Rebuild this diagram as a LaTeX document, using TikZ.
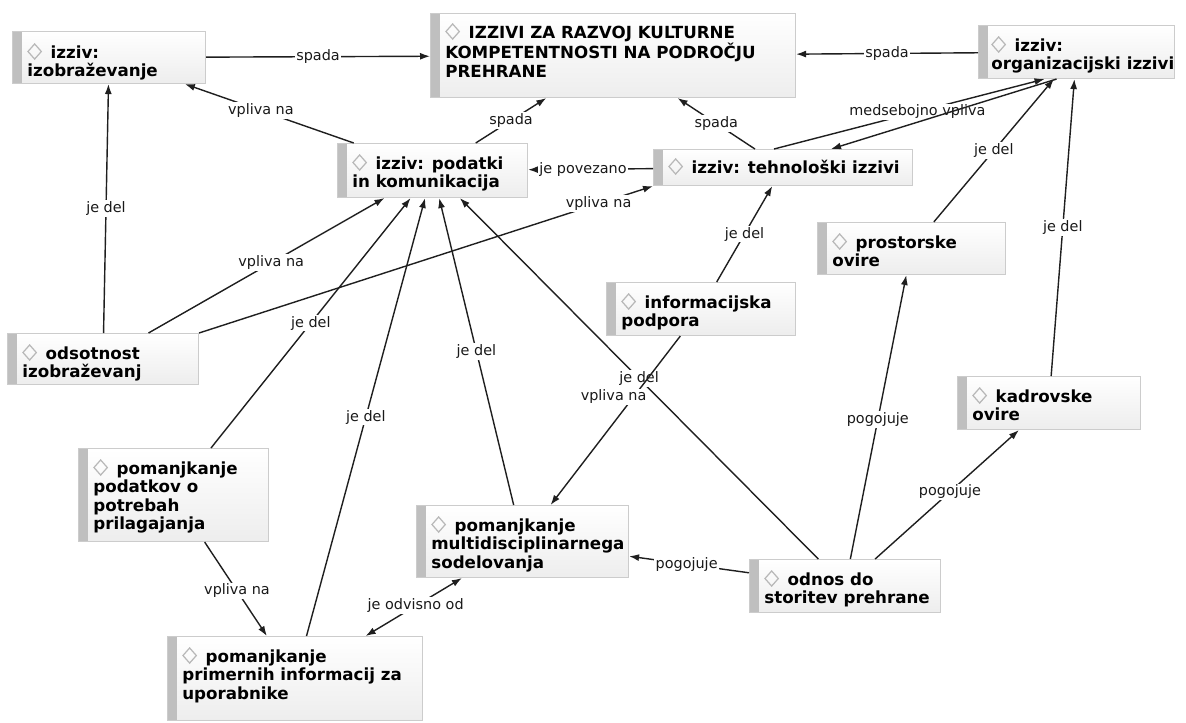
\documentclass[tikz,border=0pt]{standalone}
\usepackage{fontspec}
\setmainfont{DejaVu Sans}
\usetikzlibrary{arrows.meta}

\newcommand{\pik}{0.02cm}
\newcommand{\romb}{\tikz[baseline=0pt, x=1pt, y=1pt]\draw[black!28, line width=0.7pt] (3.8, -0.6) -- (7.6, 3.7) -- (3.8, 8) -- (0, 3.7) -- cycle;\hspace{5pt}}

\tikzset{
    pojem/.style={draw=black!20, line width=0.6pt, top color=white, bottom color=black!7,
        inner sep=0pt, anchor=north west,
        path picture={\fill[black!25] (path picture bounding box.north west)
            rectangle ([xshift=0.18cm]path picture bounding box.south west);}},
    besedilo/.style={anchor=north west, inner sep=0pt, align=left,
        font=\fontsize{9.5}{10.6}\selectfont\bfseries},
    povezava/.style={line width=0.8pt, draw=black!88, ->},
    oznaka/.style={fill=white, inner sep=0.8pt, text=black!90,
        font=\fontsize{8.2}{9}\selectfont}
}

\begin{document}
\begin{tikzpicture}[x=0.02cm, y=-0.02cm, >={Latex[length=2mm,width=1.4mm]}]
            %\draw[lightgray] (0, 0) grid[step=50] (1186, 723);
            \useasboundingbox (0, 0) rectangle (1186, 723);

            % pojmi
            \node[pojem, minimum width=193*\pik, minimum height=52*\pik] (izobrazevanje) at (12, 31) {};
            \node[besedilo] (izobrazevanje-t) at ([shift={(15, 12)}]izobrazevanje.north west) {\romb izziv:\\izobraževanje};
            \node[pojem, minimum width=365*\pik, minimum height=84*\pik] (izzivi) at (430, 13) {};
            \node[besedilo] (izzivi-t) at ([shift={(15, 10)}]izzivi.north west) {\romb IZZIVI ZA RAZVOJ KULTURNE\\KOMPETENTNOSTI NA PODROČJU\\PREHRANE};
            \node[pojem, minimum width=196*\pik, minimum height=53*\pik] (organizacijski) at (978, 25) {};
            \node[besedilo] (organizacijski-t) at ([shift={(13, 11)}]organizacijski.north west) {\romb izziv:\\organizacijski izzivi};
            \node[pojem, minimum width=190*\pik, minimum height=54*\pik] (podatki) at (337, 143) {};
            \node[besedilo] (podatki-t) at ([shift={(15, 11)}]podatki.north west) {\romb izziv: podatki\\in komunikacija};
            \node[pojem, minimum width=259*\pik, minimum height=36*\pik] (tehnoloski) at (653, 149) {};
            \node[besedilo] (tehnoloski-t) at ([shift={(15, 9)}]tehnoloski.north west) {\romb izziv: tehnološki izzivi};
            \node[pojem, minimum width=188*\pik, minimum height=52*\pik] (prostorske) at (817, 222) {};
            \node[besedilo] (prostorske-t) at ([shift={(15, 11)}]prostorske.north west) {\romb prostorske\\ovire};
            \node[pojem, minimum width=189*\pik, minimum height=53*\pik] (informacijska) at (606, 282) {};
            \node[besedilo] (informacijska-t) at ([shift={(15, 11)}]informacijska.north west) {\romb informacijska\\podpora};
            \node[pojem, minimum width=183*\pik, minimum height=53*\pik] (kadrovske) at (957, 376) {};
            \node[besedilo] (kadrovske-t) at ([shift={(15, 11)}]kadrovske.north west) {\romb kadrovske\\ovire};
            \node[pojem, minimum width=191*\pik, minimum height=51*\pik] (odsotnost) at (7, 333) {};
            \node[besedilo] (odsotnost-t) at ([shift={(15, 11)}]odsotnost.north west) {\romb odsotnost\\izobraževanj};
            \node[pojem, minimum width=190*\pik, minimum height=93*\pik] (potrebe) at (78, 448) {};
            \node[besedilo] (potrebe-t) at ([shift={(15, 11)}]potrebe.north west) {\romb pomanjkanje\\podatkov o\\potrebah\\prilagajanja};
            \node[pojem, minimum width=212*\pik, minimum height=72*\pik] (multidisciplinarno) at (416, 505) {};
            \node[besedilo] (multidisciplinarno-t) at ([shift={(15, 11)}]multidisciplinarno.north west) {\romb pomanjkanje\\multidisciplinarnega\\sodelovanja};
            \node[pojem, minimum width=191*\pik, minimum height=53*\pik] (odnos) at (749, 559) {};
            \node[besedilo] (odnos-t) at ([shift={(15, 11)}]odnos.north west) {\romb odnos do\\storitev prehrane};
            \node[pojem, minimum width=255*\pik, minimum height=84*\pik] (primerne) at (167, 636) {};
            \node[besedilo] (primerne-t) at ([shift={(15, 11)}]primerne.north west) {\romb pomanjkanje\\primernih informacij za\\uporabnike};

            % povezave
            \draw[povezava] (izobrazevanje) -- node[oznaka] (o1) {spada} (izzivi);
            \draw[povezava] (organizacijski) -- node[oznaka] (o2) {spada} (izzivi);
            \draw[povezava] (podatki) -- node[oznaka, pos=0.55] (o3) {vpliva na} (izobrazevanje);
            \draw[povezava] (podatki) -- node[oznaka] (o4) {spada} (izzivi);
            \draw[povezava] (tehnoloski) -- node[oznaka] (o5) {spada} (izzivi);
            \draw[povezava] (tehnoloski) -- node[oznaka, pos=0.56] (o6) {je povezano} (podatki);
            \draw[povezava] ([shift={(-9, 0)}]tehnoloski.north) -- node[oznaka, pos=0.53] (o7) {medsebojno vpliva} ([shift={(-32, 0)}]organizacijski.south);
            \draw[povezava] ([shift={(-20, 0)}]organizacijski.south) -- ([shift={(48, 0)}]tehnoloski.north);
            \draw[povezava] (prostorske) -- node[oznaka] (o8) {je del} (organizacijski);
            \draw[povezava] (kadrovske) -- node[oznaka] (o9) {je del} (organizacijski);
            \draw[povezava] (informacijska) -- node[oznaka] (o10) {je del} (tehnoloski);
            \draw[povezava] (odsotnost) -- node[oznaka] (o11) {je del} (izobrazevanje);
            \draw[povezava] (odsotnost) -- node[oznaka, pos=0.52] (o12) {vpliva na} (podatki);
            \draw[povezava] (odsotnost.north east) -- node[oznaka, pos=0.88] (o13) {vpliva na} (tehnoloski.south west);
            \draw[povezava] (potrebe) -- node[oznaka] (o14) {je del} (podatki);
            \draw[povezava] (potrebe) -- node[oznaka, pos=0.52] (o15) {vpliva na} (primerne);
            \draw[povezava] (primerne) -- node[oznaka] (o16) {je del} (podatki);
            \draw[povezava] (multidisciplinarno) -- node[oznaka] (o17) {je del} (podatki);
            \draw[povezava] (odnos) -- node[oznaka] (o18) {je del} (podatki);
            \draw[povezava] (informacijska) -- node[oznaka, pos=0.36, xshift=-20*\pik] (o19) {vpliva na} (multidisciplinarno);
            \draw[povezava] (odnos) -- node[oznaka, pos=0.52] (o20) {pogojuje} (multidisciplinarno);
            \draw[povezava] (odnos) -- node[oznaka, pos=0.49] (o21) {pogojuje} (prostorske);
            \draw[povezava] (odnos) -- node[oznaka, pos=0.52] (o22) {pogojuje} (kadrovske);
            \draw[povezava, <->] (multidisciplinarno) -- node[oznaka, pos=0.48] (o23) {je odvisno od} (primerne);
        \end{tikzpicture}
\end{document}
